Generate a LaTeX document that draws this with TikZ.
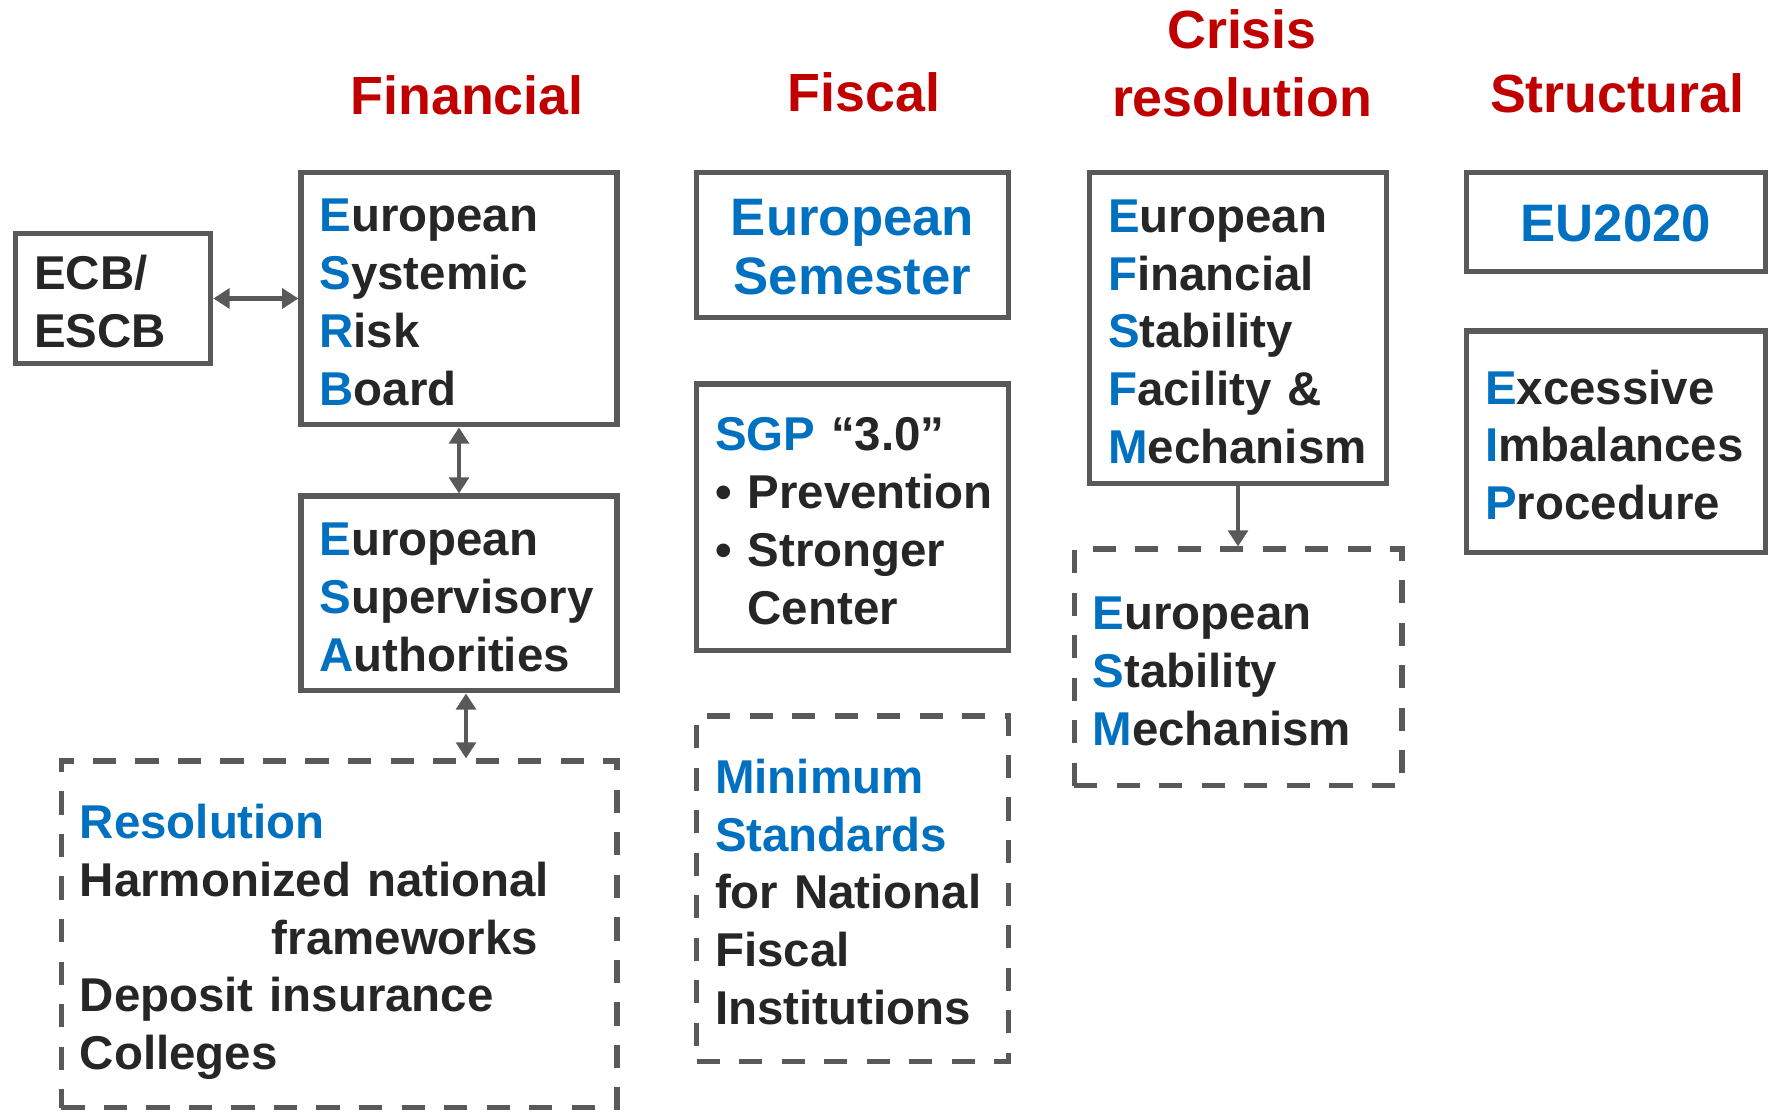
\documentclass[tikz,border=0pt]{standalone}
\usepackage{fontspec}
\setmainfont{Liberation Sans}
\usepackage{xcolor}
\definecolor{euBlue}{RGB}{0,112,192}
\definecolor{euRed}{RGB}{192,0,0}
\definecolor{euGrey}{RGB}{89,89,89}
\definecolor{euText}{RGB}{38,38,38}
\usetikzlibrary{arrows.meta,positioning}
\newcommand{\acr}[1]{\textcolor{euBlue}{#1}}
\hyphenpenalty=10000

\begin{document}
\begin{tikzpicture}[x=0.1mm, y=-0.1mm,
  box/.style={draw=euGrey, line width=1.5pt, inner xsep=1.85mm, inner ysep=0pt,
              align=left, text=euText, font=\bfseries\fontsize{13.5}{16.45}\selectfont,
              execute at begin node={\rule{0pt}{11.5pt}}},
  dbox/.style={box, dash pattern=on 6.6pt off 5.5pt},
  big/.style={align=center, text=euBlue, execute at begin node={},
              font=\bfseries\fontsize{15}{16.8}\selectfont},
  head/.style={text=euRed, align=center, font=\bfseries\fontsize{15.3}{19.3}\selectfont},
  link/.style={draw=euGrey, line width=1.2pt, -{Triangle[length=4.6pt,width=5.6pt]}},
  both/.style={link, {Triangle[length=4.6pt,width=5.6pt]}-{Triangle[length=4.6pt,width=5.6pt]}}
]
  \useasboundingbox (0,0) rectangle (1777,1113);

  % column titles
  \node[head, anchor=base] (hfin) at (467,114.5) {Financial};
  \node[head, anchor=base] (hfis) at (864,111)   {Fiscal};
  \node[head]              (hcri) at (1242,63.5) {Crisis\\resolution};
  \node[head, anchor=base] (hstr) at (1617,112)  {Structural};

  % financial
  \node[box, anchor=north, text width=27.9mm, minimum height=25.27mm] (esrb) at (459,169.5)
       {\acr{E}uropean\\ \acr{S}ystemic\\ \acr{R}isk\\ \acr{B}oard};
  \node[box, text width=15.8mm, minimum height=13.07mm, left=8.5mm of esrb] (ecb) {ECB/\\ ESCB};
  \node[box, text width=27.9mm, minimum height=19.47mm, below=6.6mm of esrb] (esa)
       {\acr{E}uropean\\ \acr{S}upervisory\\ \acr{A}uthorities};
  \node[dbox, anchor=north east, text width=51.87mm, minimum height=34.67mm,
        execute at begin node={\rule{0pt}{14pt}}] (res)
       at ([yshift=-6.5mm]esa.south east)
       {\acr{Resolution}\\ Harmonized~national\\ \hspace*{19.2mm}frameworks\\ Deposit~insurance\\ Colleges};

  % fiscal
  \node[box, big, anchor=north, text width=27.47mm, minimum height=14.57mm] (sem) at (852.5,169.5)
       {European\\ Semester};
  \node[box, text width=27.47mm, minimum height=26.67mm, below=6.1mm of sem] (sgp)
       {\acr{SGP}~“3.0”\\ \mbox{\textbullet~Prevention}\\ \textbullet~Stronger\\ \hphantom{\textbullet~}Center};
  \node[dbox, text width=27.47mm, minimum height=34.57mm, below=6mm of sgp] (mns)
       {\acr{Minimum}\\ \acr{Standards}\\ for~National\\ Fiscal\\ Institutions};

  % crisis resolution
  \node[box, anchor=north, text width=25.97mm, minimum height=31.17mm] (efsf) at (1238,169.5)
       {\acr{E}uropean\\ \acr{F}inancial\\ \acr{S}tability\\ \acr{F}acility~\&\\ \acr{M}echanism};
  \node[dbox, text width=29.07mm, minimum height=23.67mm, below=6mm of efsf] (esm)
       {\acr{E}uropean\\ \acr{S}tability\\ \acr{M}echanism};

  % structural
  \node[box, big, anchor=north, text width=26.17mm, minimum height=9.97mm] (eu) at (1616,169.5) {EU2020};
  \node[box, text width=26.17mm, minimum height=22.17mm, below=5.4mm of eu] (eip)
       {\acr{E}xcessive\\ \acr{I}mbalances\\ \acr{P}rocedure};

  \draw[both] (ecb) -- (esrb);
  \draw[both] (esrb) -- (esa);
  \draw[both] ([xshift=0.7mm]esa.south) -- ([xshift=0.7mm]esa.south |- res.north);
  \draw[link] (efsf) -- (esm);
\end{tikzpicture}
\end{document}
